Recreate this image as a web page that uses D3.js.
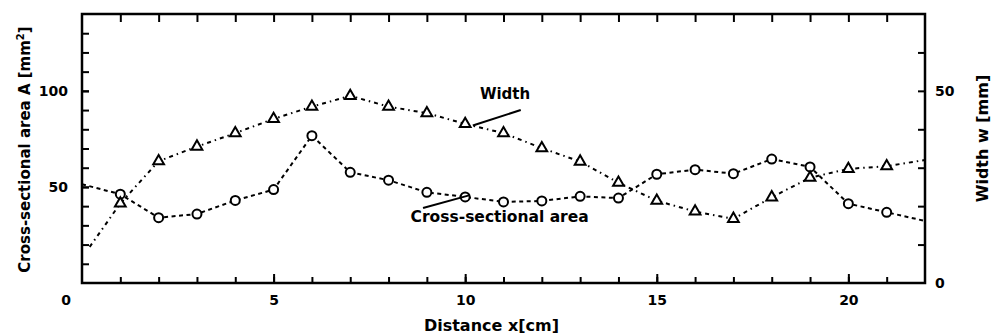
<!DOCTYPE html>
<html>
<head>
<meta charset="utf-8">
<script src="https://cdn.jsdelivr.net/npm/d3@7"></script>
<style>
  body { margin: 0; background: #fff; }
  text { font-family: "DejaVu Sans", sans-serif; font-weight: bold; fill: #000; }
</style>
</head>
<body>
<div id="chart"></div>
<script>
// Distance along the channel [cm]
var distance = [1, 2, 3, 4, 5, 6, 7, 8, 9, 10, 11, 12, 13, 14, 15, 16, 17, 18, 19, 20, 21];
// Cross-sectional area A [mm^2] (circles, left axis)
var area = [46.2, 34.0, 35.9, 43.0, 48.6, 76.7, 57.6, 53.5, 47.2, 44.8, 42.2, 42.7, 45.1, 44.2, 56.6, 59.0, 56.9, 64.5, 60.4, 41.3, 36.8];
// Width w [mm] (triangles, right axis)
var width_w = [20.7, 31.7, 35.5, 39.0, 42.7, 45.9, 48.7, 45.9, 44.2, 41.4, 39.0, 35.1, 31.6, 26.1, 21.4, 18.6, 16.7, 22.3, 27.4, 29.7, 30.4];
// line ends beyond the first / last measured point
var areaEnds = [[0, 51.4], [22, 32.3]];
var widthEnds = [[0.2, 9.4], [22, 32.0]];

var xTicksLabeled = [5, 10, 15, 20];
var leftTicksLabeled = [50, 100];
var rightTicksLabeled = [0, 50];

var svgWidth = 993;
var svgHeight = 336;
var margin = { top: 14, right: 68, bottom: 53, left: 82 };
var width = svgWidth - margin.left - margin.right;
var height = svgHeight - margin.top - margin.bottom;

var svg = d3.select("#chart")
    .append("svg")
    .attr("width", svgWidth)
    .attr("height", svgHeight);

var chartGroup = svg.append("g")
    .attr("transform", `translate(${margin.left}, ${margin.top})`);

var x = d3.scaleLinear().domain([0, 22]).range([0, width]);
var yA = d3.scaleLinear().domain([0, 140]).range([height, 0]);
var yW = d3.scaleLinear().domain([0, 70]).range([height, 0]);

function styleAxis(g) {
    g.select(".domain").remove();
    g.selectAll(".tick line").attr("stroke", "#000").attr("stroke-width", 2);
    g.selectAll(".tick text").style("font-size", "14px").attr("fill", "#000");
}

// bottom axis: minor ticks + labeled major ticks
chartGroup.append("g")
    .attr("transform", `translate(0, ${height})`)
    .call(d3.axisBottom(x).tickValues(d3.range(1, 22)).tickSize(-6).tickFormat(""))
    .call(styleAxis);
chartGroup.append("g")
    .attr("transform", `translate(0, ${height})`)
    .call(d3.axisBottom(x).tickValues(xTicksLabeled).tickSize(-9).tickPadding(12))
    .call(styleAxis);
// the "0" sits left of the corner
chartGroup.append("text")
    .attr("x", x(0) - 16)
    .attr("y", height + 12)
    .attr("dy", "0.71em")
    .attr("text-anchor", "middle")
    .style("font-size", "14px")
    .text("0");

// top axis
chartGroup.append("g")
    .call(d3.axisTop(x).tickValues(d3.range(1, 22)).tickSize(-8).tickFormat(""))
    .call(styleAxis);

// left axis
chartGroup.append("g")
    .call(d3.axisLeft(yA).tickValues(d3.range(10, 140, 10)).tickSize(-7).tickFormat(""))
    .call(styleAxis);
chartGroup.append("g")
    .call(d3.axisLeft(yA).tickValues(leftTicksLabeled).tickSize(-7).tickPadding(14))
    .call(styleAxis);

// right axis
chartGroup.append("g")
    .attr("transform", `translate(${width}, 0)`)
    .call(d3.axisRight(yW).tickValues(d3.range(10, 70, 10)).tickSize(-7).tickFormat(""))
    .call(styleAxis);
chartGroup.append("g")
    .attr("transform", `translate(${width}, 0)`)
    .call(d3.axisRight(yW).tickValues(rightTicksLabeled).tickSize(0).tickPadding(10))
    .call(styleAxis);

// frame
chartGroup.append("rect")
    .attr("width", width)
    .attr("height", height)
    .attr("fill", "none")
    .attr("stroke", "#000")
    .attr("stroke-width", 2.5);

// data
var areaData = distance.map((d, i) => [d, area[i]]);
var widthData = distance.map((d, i) => [d, width_w[i]]);

var areaLine = d3.line().x(d => x(d[0])).y(d => yA(d[1]));
var widthLine = d3.line().x(d => x(d[0])).y(d => yW(d[1]));

chartGroup.append("path")
    .datum([areaEnds[0]].concat(areaData, [areaEnds[1]]))
    .attr("d", areaLine)
    .attr("fill", "none")
    .attr("stroke", "#000")
    .attr("stroke-width", 2)
    .attr("stroke-dasharray", "4,3.5");

chartGroup.append("path")
    .datum([widthEnds[0]].concat(widthData, [widthEnds[1]]))
    .attr("d", widthLine)
    .attr("fill", "none")
    .attr("stroke", "#000")
    .attr("stroke-width", 2)
    .attr("stroke-dasharray", "4,4,1.5,4");

chartGroup.selectAll("circle.area")
    .data(areaData)
    .enter()
    .append("circle")
    .attr("class", "area")
    .attr("cx", d => x(d[0]))
    .attr("cy", d => yA(d[1]))
    .attr("r", 4.5)
    .attr("fill", "#fff")
    .attr("stroke", "#000")
    .attr("stroke-width", 2);

var tri = d3.symbol().type(d3.symbolTriangle).size(50);
chartGroup.selectAll("path.width")
    .data(widthData)
    .enter()
    .append("path")
    .attr("class", "width")
    .attr("d", tri)
    .attr("transform", d => `translate(${x(d[0])}, ${yW(d[1])})`)
    .attr("fill", "#fff")
    .attr("stroke", "#000")
    .attr("stroke-width", 2);

// annotations
chartGroup.append("line")
    .attr("x1", x(10.2)).attr("y1", yW(41))
    .attr("x2", x(11.45)).attr("y2", yW(45))
    .attr("stroke", "#000").attr("stroke-width", 2);
chartGroup.append("text")
    .attr("x", x(11.04))
    .attr("y", yW(48))
    .attr("text-anchor", "middle")
    .style("font-size", "15px")
    .text("Width");

chartGroup.append("line")
    .attr("x1", x(8.9)).attr("y1", yA(39))
    .attr("x2", x(10.1)).attr("y2", yA(45.6))
    .attr("stroke", "#000").attr("stroke-width", 2);
chartGroup.append("text")
    .attr("x", x(10.9))
    .attr("y", yA(31.8))
    .attr("text-anchor", "middle")
    .style("font-size", "15.5px")
    .text("Cross-sectional area");

// axis titles
chartGroup.append("text")
    .attr("transform", "rotate(-90)")
    .attr("x", -(height / 2) - 1)
    .attr("y", -margin.left + 30)
    .attr("text-anchor", "middle")
    .style("font-size", "15px")
    .html("Cross-sectional area A [mm<tspan dy='-6' font-size='10px'>2</tspan><tspan dy='6'>]</tspan>");

chartGroup.append("text")
    .attr("transform", "rotate(-90)")
    .attr("x", -(height / 2) + 10)
    .attr("y", width + 63)
    .attr("text-anchor", "middle")
    .style("font-size", "16px")
    .text("Width w [mm]");

chartGroup.append("text")
    .attr("x", width / 2 - 12)
    .attr("y", height + 48)
    .attr("text-anchor", "middle")
    .style("font-size", "16px")
    .text("Distance x[cm]");
</script>
</body>
</html>
